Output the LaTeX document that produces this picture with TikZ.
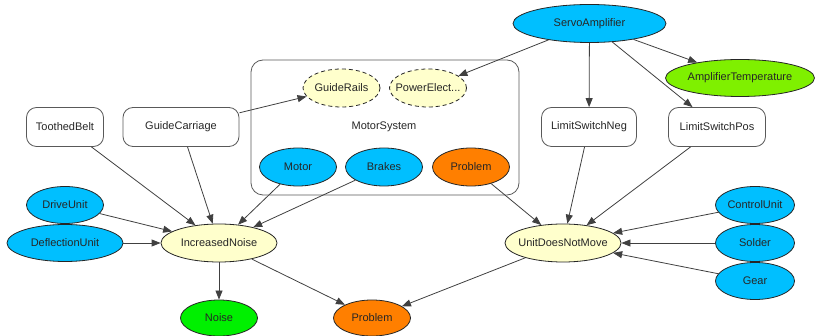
\documentclass[tikz,border=0pt]{standalone}
\usepackage{fontspec}
\setmainfont{Liberation Sans}
\usetikzlibrary{shapes.geometric,arrows.meta}
\definecolor{cblue}{HTML}{00BFFF}
\definecolor{corange}{HTML}{FF7F00}
\definecolor{cgreen}{HTML}{00F000}
\definecolor{cchart}{HTML}{7FF000}
\definecolor{cyellow}{HTML}{FFFFCC}
\definecolor{cline}{HTML}{404040}
\newcommand\lbl[1]{\makebox[0pt]{#1}}
\begin{document}
\begin{tikzpicture}[x=1pt,y=-1pt,
  ell/.style={ellipse, draw=black!85, line width=0.8pt, inner sep=0pt,
    minimum width=77pt, minimum height=38pt, font=\fontsize{11}{13}\selectfont, text=black!85},
  box/.style={rectangle, rounded corners=10pt, draw=black!65, line width=0.8pt, fill=white,
    inner sep=0pt, minimum height=39pt, font=\fontsize{11}{13}\selectfont, text=black!85},
  dashell/.style={ell, fill=cyellow, dash pattern=on 4pt off 3pt},
  edge/.style={draw=cline, line width=0.8pt, -{Triangle[length=9pt,width=7pt]}},
  cluster/.style={rectangle, rounded corners=12pt, draw=black!65, line width=0.8pt, inner sep=0pt},
  lab/.style={inner sep=0pt, font=\fontsize{11}{13}\selectfont, text=black!85}
]
\useasboundingbox (0,0) rectangle (816,336);

% cluster
\node[cluster, minimum width=268pt, minimum height=135pt] (motorsys) at (385,127.5) {};
\node[lab] (motorsyslabel) at (384,127) {MotorSystem};

% nodes
\node[ell, fill=cblue, minimum width=153pt] (servo) at (589.5,23.5) {\lbl{ServoAmplifier}};
\node[ell, fill=cchart, minimum width=149pt, minimum height=37pt] (amp) at (740,78) {\lbl{AmplifierTemperature}};
\node[box, minimum width=95pt] (lsn) at (589,127) {LimitSwitchNeg};
\node[box, minimum width=97pt] (lsp) at (717,127) {LimitSwitchPos};
\node[box, minimum width=77pt] (tb) at (65,127) {ToothedBelt};
\node[box, minimum width=116pt] (gc) at (181,127) {GuideCarriage};

\node[dashell] (gr) at (341.5,88) {\lbl{GuideRails}};
\node[dashell] (pe) at (428,88) {\lbl{PowerElect...}};
\node[ell, fill=cblue] (motor) at (298,167) {\lbl{Motor}};
\node[ell, fill=cblue] (brakes) at (384,167) {\lbl{Brakes}};
\node[ell, fill=corange] (prob1) at (471,167) {\lbl{Problem}};

\node[ell, fill=cblue, minimum height=37pt] (drive) at (65,205) {\lbl{DriveUnit}};
\node[ell, fill=cblue, minimum width=116pt, minimum height=37pt] (defl) at (65,243) {\lbl{DeflectionUnit}};
\node[ell, fill=cyellow, minimum width=116pt] (inoise) at (219,243) {\lbl{IncreasedNoise}};
\node[ell, fill=cgreen, minimum height=36pt] (noise) at (219,318) {\lbl{Noise}};
\node[ell, fill=corange, minimum height=36pt] (prob2) at (372,318) {\lbl{Problem}};

\node[ell, fill=cyellow, minimum width=116pt] (udnm) at (563,243) {\lbl{UnitDoesNotMove}};
\node[ell, fill=cblue, minimum width=79pt, minimum height=37pt] (ctrl) at (755,205) {\lbl{ControlUnit}};
\node[ell, fill=cblue, minimum width=79pt, minimum height=37pt] (solder) at (755,243) {\lbl{Solder}};
\node[ell, fill=cblue, minimum width=79pt, minimum height=37pt] (gear) at (755,281) {\lbl{Gear}};

% edges
\draw[edge] (servo) -- (pe);
\draw[edge] (servo) -- (lsn);
\draw[edge] (servo) -- (lsp);
\draw[edge] (servo) -- (amp);
\draw[edge] (gc) -- (gr);
\draw[edge] (tb) -- (inoise);
\draw[edge] (gc) -- (inoise);
\draw[edge] (motor) -- (inoise);
\draw[edge] (brakes) -- (inoise);
\draw[edge] (drive) -- (inoise);
\draw[edge] (defl) -- (inoise);
\draw[edge] (inoise) -- (noise);
\draw[edge] (inoise) -- (prob2);
\draw[edge] (prob1) -- (udnm);
\draw[edge] (lsn) -- (udnm);
\draw[edge] (lsp) -- (udnm);
\draw[edge] (ctrl) -- (udnm);
\draw[edge] (solder) -- (udnm);
\draw[edge] (gear) -- (udnm);
\draw[edge] (udnm) -- (prob2);
\end{tikzpicture}
\end{document}
